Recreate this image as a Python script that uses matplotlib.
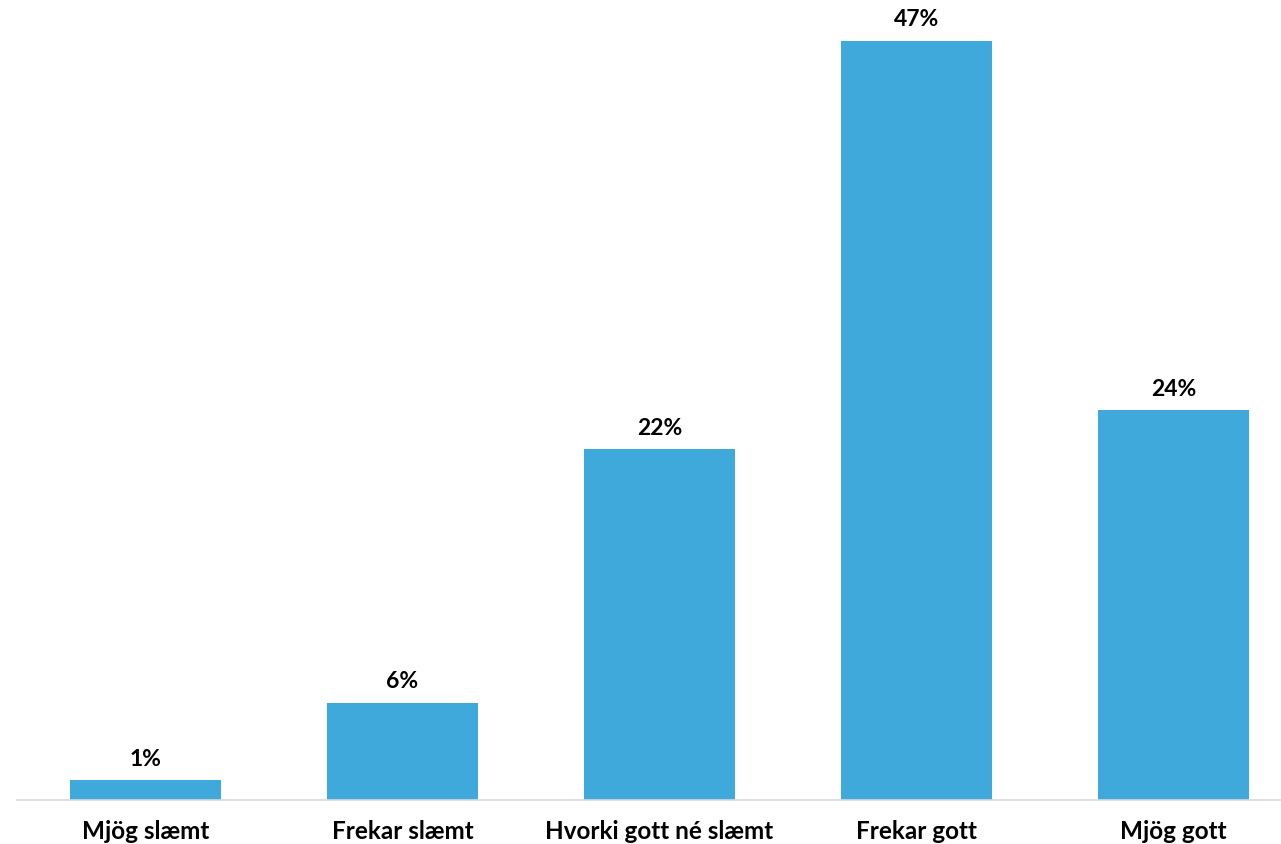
import matplotlib
matplotlib.use("Agg")
import matplotlib.pyplot as plt

categories = ["Mjög slæmt", "Frekar slæmt", "Hvorki gott né slæmt", "Frekar gott", "Mjög gott"]
values = [1.2, 6.0, 21.7, 47.0, 24.1]
value_labels = ["1%", "6%", "22%", "47%", "24%"]

W, H = 1281, 845
fig = plt.figure(figsize=(W / 100, H / 100), dpi=100)
base_px = 800.5
ax = fig.add_axes([17 / W, (H - base_px) / H, (W - 17) / W, base_px / H])

color = "#3FA9DB"
x = range(len(categories))
bars = ax.bar(x, values, width=0.588, color=color, zorder=2)

px_per_unit = (base_px - 41.5) / 47.0
ax.set_ylim(0, base_px / px_per_unit)
ax.set_xlim(-0.5, -0.5 + (W - 17) / 257.0)

font = "Lato"
for b, lab in zip(bars, value_labels):
    ax.annotate(lab, (b.get_x() + b.get_width() / 2, b.get_height()),
                xytext=(0, 8), textcoords="offset points", ha="center", va="bottom",
                fontsize=16.5, fontweight="bold", family=font, color="#000000")

ax.set_xticks(list(x))
ax.set_xticklabels(categories, fontsize=17.5, fontweight="bold", family=font)
ax.tick_params(axis="x", length=0, pad=14)
ax.set_yticks([])
for s in ["top", "right", "left"]:
    ax.spines[s].set_visible(False)
ax.spines["bottom"].set_color("#D9D9D9")
ax.spines["bottom"].set_linewidth(1.2)

fig.savefig("out.png", dpi=100)
